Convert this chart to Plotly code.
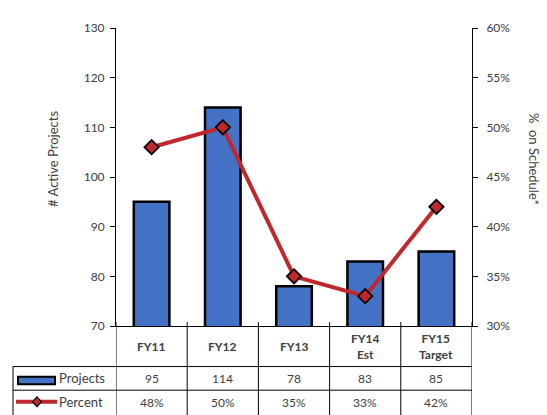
import plotly.graph_objects as go

categories = ["FY11", "FY12", "FY13", "FY14 Est", "FY15 Target"]
header_labels = ["FY11", "FY12", "FY13", "FY14<br>Est", "FY15<br>Target"]
projects = [95, 114, 78, 83, 85]
percent = [0.48, 0.50, 0.35, 0.33, 0.42]
left_ticks = [70, 80, 90, 100, 110, 120, 130]
right_ticks = [0.30, 0.35, 0.40, 0.45, 0.50, 0.55, 0.60]

FONT = "Lato, Carlito, Calibri, sans-serif"
TXT = "#404040"
BLUE = "#4472C4"
RED = "#C0282D"

# page offset from default body margin
OFF = 8
W, H = 547 - OFF, 415 - OFF
# plot area in page pixels
L, R, T, B = 116, 472, 21, 326
def px(x):
    return (x - L) / (R - L)
def py(y):
    return (B - y) / (B - T)

fig = go.Figure()
fig.add_trace(go.Bar(
    x=categories, y=projects, name="Projects", width=0.5,
    marker=dict(color=BLUE, line=dict(color="black", width=2.5)),
    yaxis="y", showlegend=False,
))
fig.add_trace(go.Scatter(
    x=categories, y=percent, name="Percent", mode="lines+markers",
    line=dict(color=RED, width=4),
    marker=dict(symbol="diamond", size=11, color=RED, line=dict(color="black", width=1.8)),
    yaxis="y2", showlegend=False,
))

shapes = []
annotations = []

n = len(categories)
for i in range(n + 1):
    shapes.append(dict(type="line", xref="x", yref="paper",
                       x0=i - 0.5, x1=i - 0.5, y0=py(322), y1=py(418),
                       line=dict(color="black", width=1)))
shapes.append(dict(type="line", xref="paper", yref="paper",
                   x0=px(13), x1=px(13), y0=py(367.5), y1=py(418),
                   line=dict(color="black", width=1)))
for yy in (367.5, 391.7):
    shapes.append(dict(type="line", xref="paper", yref="paper",
                       x0=px(13), x1=1, y0=py(yy), y1=py(yy),
                       line=dict(color="black", width=1)))
# legend keys
shapes.append(dict(type="rect", xref="paper", yref="paper",
                   x0=px(18), x1=px(55), y0=py(378), y1=py(385.5),
                   fillcolor=BLUE, line=dict(color="black", width=2)))
shapes.append(dict(type="line", xref="paper", yref="paper",
                   x0=px(16), x1=px(57), y0=py(403.5), y1=py(403.5),
                   line=dict(color=RED, width=4)))
shapes.append(dict(type="path", xref="paper", yref="paper",
                   path="M {a},{b} L {c},{d} L {a},{e} L {f},{d} Z".format(
                       a=px(37), b=py(398.5), c=px(41.5), d=py(403.5), e=py(408.5), f=px(32.5)),
                   fillcolor=RED, line=dict(color="black", width=1.2)))

annotations.append(dict(text="Projects", xref="paper", yref="paper", x=px(57), y=py(379.5),
                        xanchor="left", yanchor="middle", showarrow=False,
                        font=dict(size=13, color=TXT, family=FONT)))
annotations.append(dict(text="Percent", xref="paper", yref="paper", x=px(57), y=py(403.5),
                        xanchor="left", yanchor="middle", showarrow=False,
                        font=dict(size=13, color=TXT, family=FONT)))

for c, h, p, q in zip(categories, header_labels, projects, percent):
    annotations.append(dict(text="<b>" + h.replace("<br>", "</b><br><b>") + "</b>", x=c, xref="x", yref="paper",
                            y=py(346.5), xanchor="center", yanchor="middle", showarrow=False,
                            font=dict(size=12, color=TXT, family=FONT)))
    annotations.append(dict(text=str(p), x=c, xref="x", yref="paper",
                            y=py(379.5), xanchor="center", yanchor="middle", showarrow=False,
                            font=dict(size=12, color=TXT, family=FONT)))
    annotations.append(dict(text="{:.0f}%".format(q * 100), x=c, xref="x", yref="paper",
                            y=py(404), xanchor="center", yanchor="middle", showarrow=False,
                            font=dict(size=12, color=TXT, family=FONT)))

annotations.append(dict(text="# Active Projects", xref="paper", yref="paper", x=px(53), y=py(155),
                        textangle=-90, xanchor="center", yanchor="middle", showarrow=False,
                        font=dict(size=13, color=TXT, family=FONT)))
annotations.append(dict(text="%  on Schedule*", xref="paper", yref="paper", x=px(534), y=py(155),
                        textangle=90, xanchor="center", yanchor="middle", showarrow=False,
                        font=dict(size=13, color=TXT, family=FONT)))

fig.update_layout(
    width=W, height=H,
    margin=dict(l=L - OFF, r=W - (R - OFF), t=T - OFF, b=H - (B - OFF)),
    paper_bgcolor="white", plot_bgcolor="white",
    font=dict(family=FONT, color=TXT, size=12),
    xaxis=dict(type="category", categoryorder="array", categoryarray=categories,
               range=[-0.5, n - 0.5], showticklabels=False, ticks="",
               showline=True, linecolor="black", linewidth=1, showgrid=False, zeroline=False),
    yaxis=dict(range=[70, 130], tickvals=left_ticks, ticks="outside", ticklen=5,
               tickcolor="black", showline=True, linecolor="black", linewidth=1,
               ticklabelstandoff=3,
               showgrid=False, zeroline=False, tickfont=dict(size=12, color=TXT)),
    yaxis2=dict(range=[0.30, 0.60], tickvals=right_ticks, tickformat=".0%", overlaying="y",
                side="right", ticks="outside", ticklen=5, tickcolor="black",
                ticklabelstandoff=6,
                showline=True, linecolor="black", linewidth=1, showgrid=False, zeroline=False,
                tickfont=dict(size=12, color=TXT)),
    shapes=shapes, annotations=annotations,
    bargap=0.5,
)

fig.write_html("out.html")
